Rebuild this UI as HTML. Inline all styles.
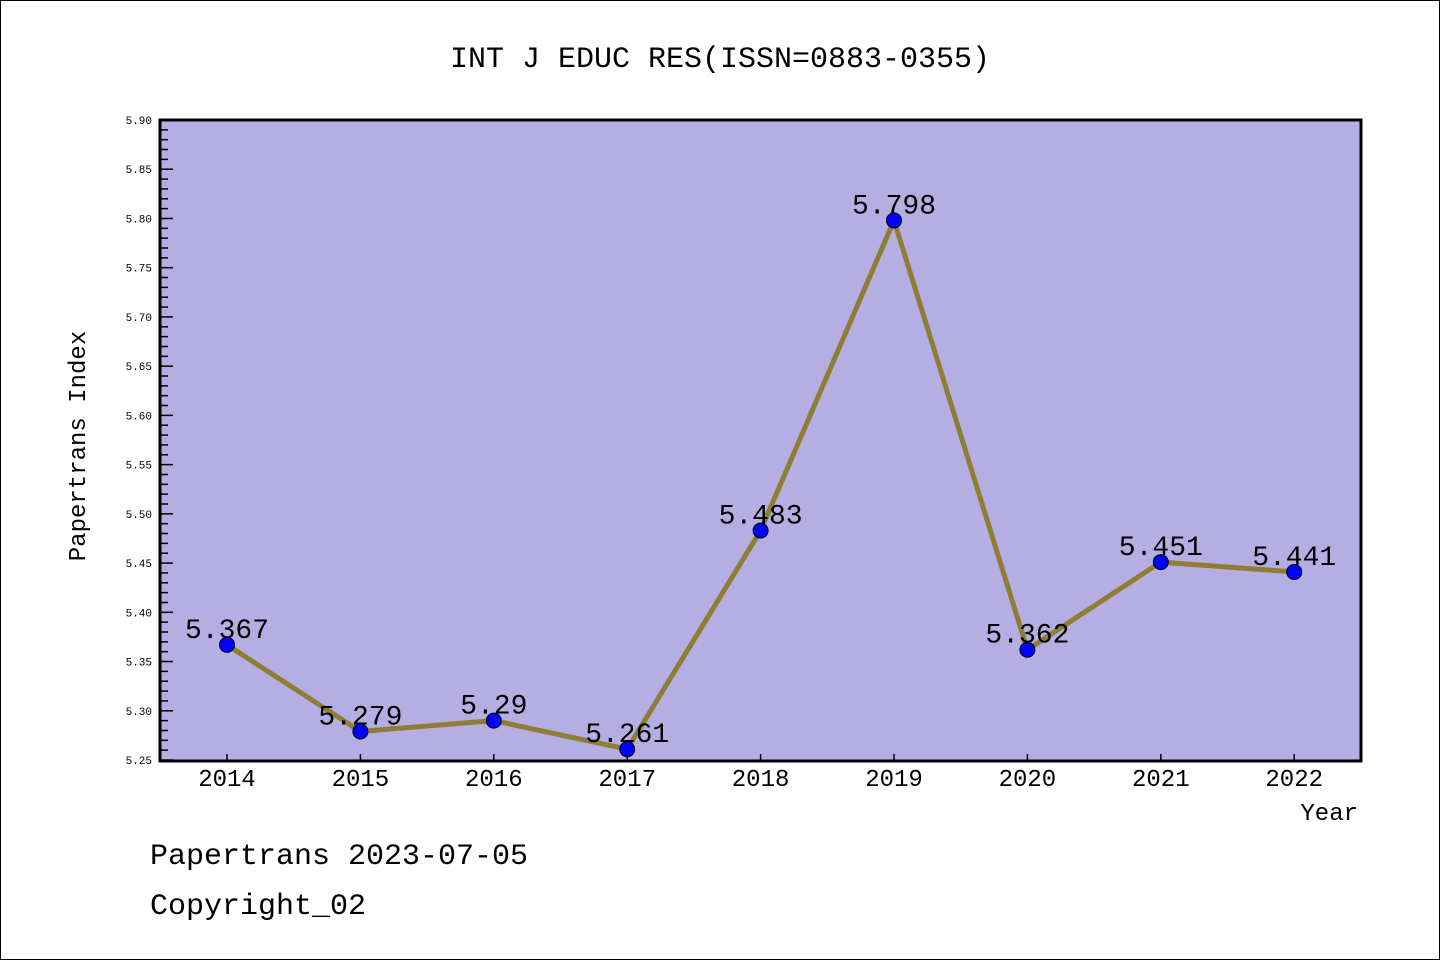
<!DOCTYPE html>
<html><head><meta charset="utf-8"><style>
body{margin:0;background:#fff}
svg{display:block}
text{font-family:"Liberation Mono","Noto Sans CJK SC",monospace}
</style></head><body>
<svg id="c" width="1440" height="960" xmlns="http://www.w3.org/2000/svg">
<rect x="0.5" y="0.5" width="1439" height="959" fill="#fff" stroke="#000"/>
<text x="720" y="67" font-size="30" text-anchor="middle">INT J EDUC RES(ISSN=0883-0355)</text>
<rect x="160" y="120" width="1201" height="641" fill="#b5aee2"/>
<g id="ax"></g>
<g id="marks"></g>
<rect x="160" y="120" width="1201" height="641" fill="none" stroke="#000" stroke-width="3"/>
<text x="85" y="446" font-size="24" text-anchor="middle" transform="rotate(-90 85 446)">Papertrans Index</text>
<text x="1358" y="820" font-size="24" text-anchor="end">Year</text>
<text x="150" y="864" font-size="30">Papertrans 2023-07-05</text>
<text x="150" y="914" font-size="30">Copyright_02</text>
</svg>
<script>
const years=["2014","2015","2016","2017","2018","2019","2020","2021","2022"];
const values=[5.367,5.279,5.29,5.261,5.483,5.798,5.362,5.451,5.441];
const labels=["5.367","5.279","5.29","5.261","5.483","5.798","5.362","5.451","5.441"];
const yTicks=["5.25","5.30","5.35","5.40","5.45","5.50","5.55","5.60","5.65","5.70","5.75","5.80","5.85","5.90"];
const NS="http://www.w3.org/2000/svg";
const yMin=5.25,yMax=5.90;
function Y(v){return 760-(v-yMin)/(yMax-yMin)*640;}
function X(i){return 227+i*133.4;}
function mk(t,a,p){const e=document.createElementNS(NS,t);for(const k in a)e.setAttribute(k,a[k]);p.appendChild(e);return e;}
const ax=document.getElementById('ax'),mg=document.getElementById('marks');
for(let k=0;k<=65;k++){
  const v=yMin+k*0.01;const y=Y(v);const major=k%5===0;
  const l=mk('line',{x1:160,x2:160+(major?13:8),y1:y,y2:y,stroke:'#000','stroke-width':1.5},ax);
  
  
}
yTicks.forEach(s=>{
  const t=mk('text',{x:152,y:Y(parseFloat(s))+4,'font-size':11,'text-anchor':'end','font-family':'"DejaVu Sans",sans-serif'},ax);
  t.textContent=s;
  
  
});
years.forEach((yr,i)=>{
  const l=mk('line',{x1:X(i),x2:X(i),y1:760,y2:754,stroke:'#000','stroke-width':1.5},ax);
  
  
  const t=mk('text',{x:X(i),y:786,'font-size':24,'text-anchor':'middle'},ax);
  t.textContent=yr;
  
  
});
const pl=mk('polyline',{points:values.map((v,i)=>X(i)+','+Y(v)).join(' '),fill:'none',stroke:'#8f7d33','stroke-width':5,'stroke-linejoin':'round'},mg);


values.forEach((v,i)=>{
  const c=mk('circle',{cx:X(i),cy:Y(v),r:7.5,fill:'#0000ff',stroke:'#000','stroke-width':1},mg);
  
  
  const t=mk('text',{x:X(i),y:Y(v)-7,'font-size':28,'text-anchor':'middle'},mg);
  t.textContent=labels[i];
  
  
});
</script>
</body></html>
